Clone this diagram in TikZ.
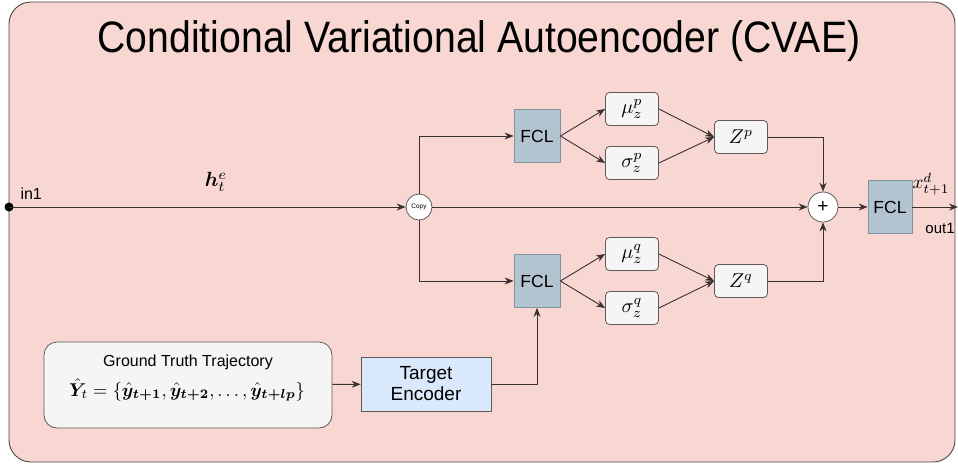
\documentclass[tikz,border=0pt]{standalone}
\usepackage{amsmath,bm}
\usepackage{fontspec}
\setmainfont{Liberation Sans}
\usetikzlibrary{arrows.meta}
\definecolor{bgpink}{HTML}{F8D7D3}
\definecolor{fclfill}{HTML}{B3C4D1}
\definecolor{fcldraw}{HTML}{7F93A3}
\definecolor{lnc}{HTML}{3A3030}
\definecolor{tefill}{HTML}{DAE8FC}
\definecolor{gtfill}{HTML}{F5F5F5}
\newcommand{\mth}[2]{\scalebox{#1}{$#2$}}
\tikzset{
  conn/.style={draw=lnc, line width=0.9pt},
  arr/.style={conn, -{Stealth[length=9pt,width=7pt]}},
  fcl/.style={draw=fcldraw, fill=fclfill, line width=0.8pt, minimum width=46pt, minimum height=53pt, inner sep=0pt, font=\fontsize{17.5}{17.5}\selectfont},
  sbox/.style={draw=lnc!80, fill=gtfill, rounded corners=4pt, line width=0.8pt, minimum width=53pt, minimum height=33pt, inner sep=0pt},
  circ/.style={circle, draw=lnc!80, fill=white, line width=0.8pt, inner sep=0pt},
}
\begin{document}
\begin{tikzpicture}[x=1pt,y=-1pt]
\useasboundingbox (0,0) rectangle (958,464);
\draw[draw=lnc!90, fill=bgpink, line width=0.9pt, rounded corners=22pt] (9,2) rectangle (955,462);
\node (title) at (479,41) {\scalebox{0.89}[1]{\fontsize{44}{44}\selectfont Conditional Variational Autoencoder (CVAE)}};

% input
\fill[black] (9,207) circle (4.5pt);
\coordinate (in) at (9,207);
\node[font=\fontsize{16}{16}\selectfont, anchor=west] (inl) at (17,194) {in1};
\node (he) at (216,182) {\mth{2.05}{\bm{h}_t^e}};

\node[circ, minimum size=26pt] (copy) at (419,207) {\fontsize{6.5}{6.5}\selectfont Copy};
\node[circ, minimum size=30pt] (plus) at (823,207) {\fontsize{19}{19}\selectfont +};

\node[fcl] (fclp) at (537,136) {FCL};
\node[fcl] (fclq) at (537,281) {FCL};
\node[fcl, minimum width=44pt] (fclo) at (890,207) {FCL};

\node[sbox] (mup) at (632,109) {\mth{2.0}{\mu_z^p}};
\node[sbox] (sgp) at (632,163) {\mth{2.0}{\sigma_z^p}};
\node[sbox] (zp) at (741,137) {\mth{2.0}{Z^p}};
\node[sbox] (muq) at (632,254) {\mth{2.0}{\mu_z^q}};
\node[sbox] (sgq) at (632,308) {\mth{2.0}{\sigma_z^q}};
\node[sbox] (zq) at (741,281) {\mth{2.0}{Z^q}};

\node[draw=lnc!80, fill=gtfill, rounded corners=13pt, line width=0.8pt, minimum width=288pt, minimum height=86pt] (gt) at (188,385) {};
\node[font=\fontsize{16}{16}\selectfont] (gtt) at (188,362) {Ground Truth Trajectory};
\node (gtf) at (187,390) {\mth{1.85}{\bm{\hat{Y}}_t=\{\bm{\hat{y}_{t+1}},\bm{\hat{y}_{t+2}},\ldots,\bm{\hat{y}_{t+lp}}\}}};

\node[draw=lnc!80, fill=tefill, line width=0.8pt, minimum width=130pt, minimum height=54pt, align=center, font=\fontsize{19}{21}\selectfont] (te) at (426,384) {Target\\Encoder};

\coordinate (out) at (958,207);
\node[anchor=center] (xd) at (931,184) {\mth{1.9}{x_{t+1}^d}};
\node[font=\fontsize{15}{15}\selectfont] (outl) at (940,228) {out1};

% connectors
\draw[arr] (in) -- (copy);
\draw[arr] (copy) -- (plus);
\draw[arr] (copy.north) |- (fclp.west);
\draw[arr] (copy.south) |- (fclq.west);
\draw[arr] (fclp.east) -- (mup.west);
\draw[arr] (fclp.east) -- (sgp.west);
\draw[arr] (mup.east) -- (zp.west);
\draw[arr] (sgp.east) -- (zp.west);
\draw[arr] (fclq.east) -- (muq.west);
\draw[arr] (fclq.east) -- (sgq.west);
\draw[arr] (muq.east) -- (zq.west);
\draw[arr] (sgq.east) -- (zq.west);
\draw[arr] (zp.east) -| (plus.north);
\draw[arr] (zq.east) -| (plus.south);
\draw[arr] (plus) -- (fclo);
\draw[arr] (fclo) -- (out);
\draw[arr] (gt) -- (te);
\draw[arr] (te.east) -| (fclq.south);
\end{tikzpicture}
\end{document}
